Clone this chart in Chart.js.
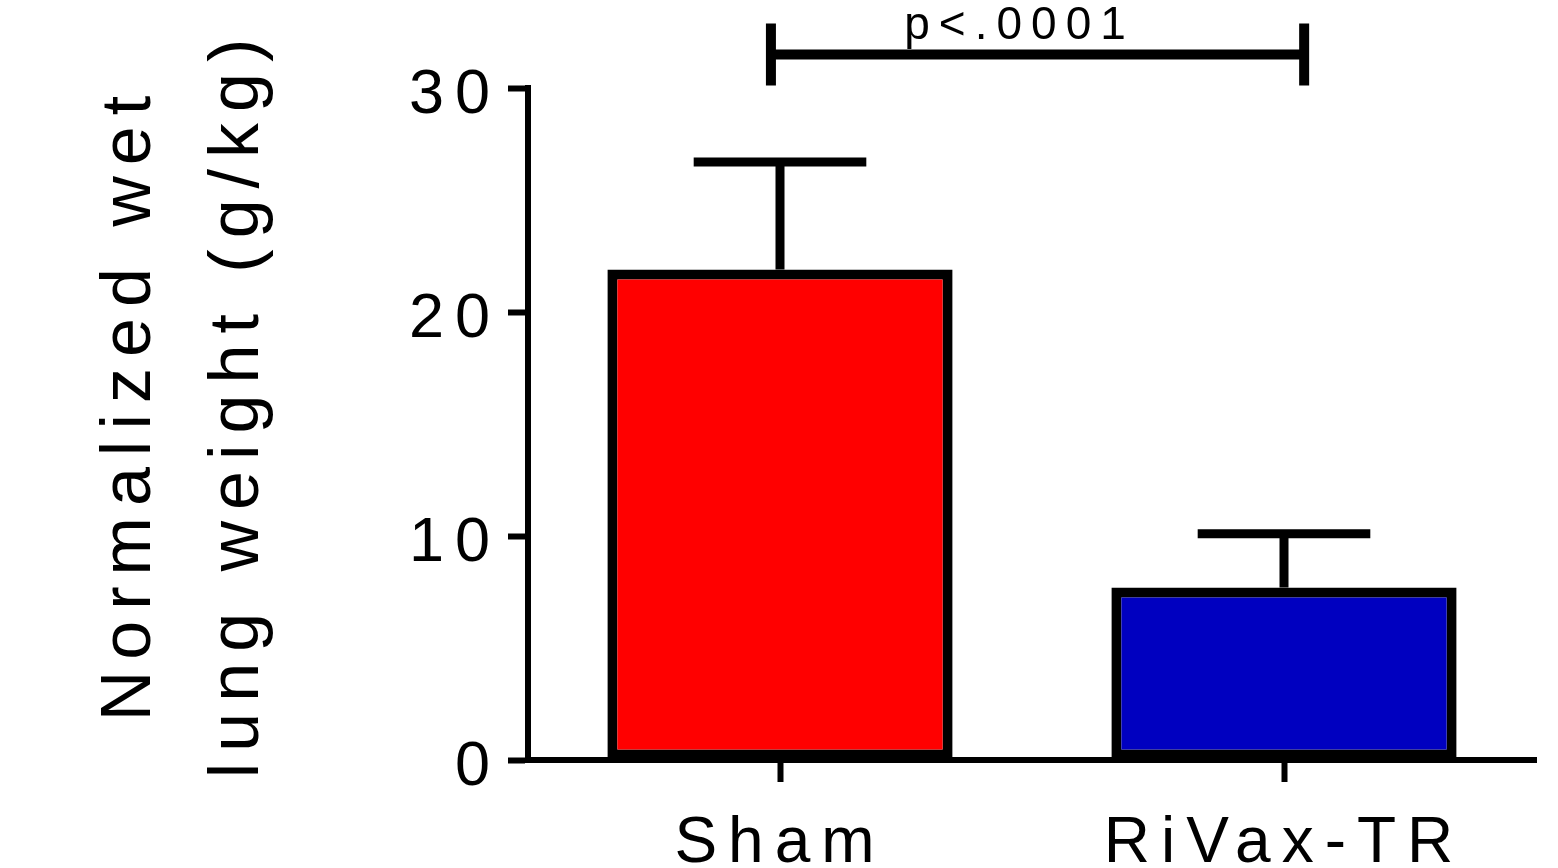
<!DOCTYPE html>
<html>
<head>
<meta charset="utf-8">
<script src="https://cdn.jsdelivr.net/npm/chart.js@4/dist/chart.umd.min.js"></script>
<style>
    body { margin: 0; background: #fff; }
</style>
</head>
<body>
<canvas id="chartJS" width="1558" height="868"></canvas>
<script>
const categories = ['Sham', 'RiVax-TR'];
const means = [21.9, 7.7];
const errors = [4.8, 2.4];
const barColors = ['#ff0000', '#0000c0'];
const yTicks = [0, 10, 20, 30];
const yTitle = ['Normalized wet', 'lung weight (g/kg)'];
const pLabel = 'p<.0001';
const bracketLevel = 31.5;
const bracketFrom = -0.018; // index along the category axis
const bracketTo = 1.04;

const FONT = '"Liberation Sans", Arial, sans-serif';

// error bars, significance bracket and the two-line y title
const extras = {
    id: 'extras',
    beforeDraw(chart) {
        chart.ctx.letterSpacing = '11px';
    },
    afterDraw(chart) {
        const ctx = chart.ctx;
        const x = chart.scales.x;
        const y = chart.scales.y;
        const meta = chart.getDatasetMeta(0);

        ctx.save();
        ctx.strokeStyle = '#000';
        ctx.fillStyle = '#000';

        // error bars (upper only)
        ctx.lineWidth = 9;
        meta.data.forEach((bar, i) => {
            const top = y.getPixelForValue(means[i] + errors[i]);
            const half = bar.width / 4;
            ctx.beginPath();
            ctx.moveTo(bar.x, bar.y);
            ctx.lineTo(bar.x, top);
            ctx.moveTo(bar.x - half, top);
            ctx.lineTo(bar.x + half, top);
            ctx.stroke();
        });

        // bracket
        const bx1 = x.getPixelForValue(bracketFrom);
        const bx2 = x.getPixelForValue(bracketTo);
        const by = y.getPixelForValue(bracketLevel);
        ctx.lineWidth = 10;
        ctx.beginPath();
        ctx.moveTo(bx1, by);
        ctx.lineTo(bx2, by);
        ctx.moveTo(bx1, by - 31);
        ctx.lineTo(bx1, by + 31);
        ctx.moveTo(bx2, by - 31);
        ctx.lineTo(bx2, by + 31);
        ctx.stroke();

        ctx.letterSpacing = '9px';
        ctx.font = '46px ' + FONT;
        ctx.textAlign = 'center';
        ctx.textBaseline = 'alphabetic';
        ctx.fillText(pLabel, (bx1 + bx2) / 2 - 18, by - 15);

        // y axis title
        ctx.letterSpacing = '11px';
        ctx.font = '70px ' + FONT;
        const cy = (chart.chartArea.top + chart.chartArea.bottom) / 2 - 21;
        [150, 258].forEach((bx, i) => {
            ctx.save();
            ctx.translate(bx, cy);
            ctx.rotate(-Math.PI / 2);
            ctx.fillText(yTitle[i], 0, 0);
            ctx.restore();
        });
        ctx.restore();
    }
};

const data = {
    labels: categories,
    datasets: [{
        data: means,
        backgroundColor: barColors,
        borderColor: '#000',
        borderWidth: 10,
        borderSkipped: false,
        categoryPercentage: 1,
        barPercentage: 0.685
    }]
};

const config = {
    type: 'bar',
    data: data,
    options: {
        responsive: false,
        animation: false,
        layout: { padding: { top: 88, right: 22, left: 0, bottom: 0 } },
        plugins: {
            legend: { display: false },
            tooltip: { enabled: false }
        },
        scales: {
            x: {
                offset: true,
                grid: {
                    drawOnChartArea: false,
                    offset: false,
                    tickLength: 22,
                    tickWidth: 6,
                    tickColor: '#000'
                },
                border: { width: 6, color: '#000' },
                ticks: {
                    color: '#000',
                    font: { family: FONT, size: 64 },
                    padding: 24,
                    maxRotation: 0
                },
                afterFit: s => { s.height = 108; }
            },
            y: {
                min: 0,
                max: 30,
                afterBuildTicks: s => { s.ticks = yTicks.map(v => ({ value: v })); },
                grid: {
                    drawOnChartArea: false,
                    tickLength: 20,
                    tickWidth: 6,
                    tickColor: '#000'
                },
                border: { width: 6, color: '#000' },
                ticks: {
                    color: '#000',
                    font: { family: FONT, size: 63 },
                    padding: 7,
                    labelOffset: 8
                },
                afterFit: s => { s.width = 528; }
            }
        }
    },
    plugins: [extras]
};

const myChart = new Chart(document.getElementById('chartJS'), config);
</script>
</body>
</html>
